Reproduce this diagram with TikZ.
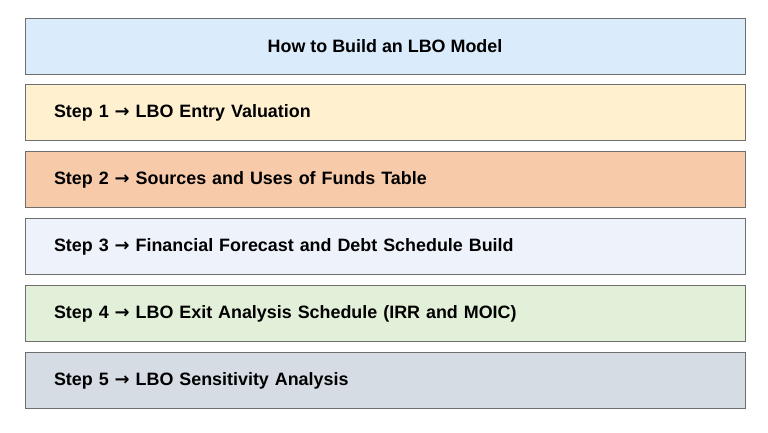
\documentclass[tikz,border=0pt]{standalone}
\usepackage{fontspec}
\setmainfont{Liberation Sans}
\newfontfamily\arrowfont{DejaVu Sans}
\usepackage{xcolor}
\usetikzlibrary{positioning}

\definecolor{titleblue}{HTML}{DAEBFC}
\definecolor{stepgold}{HTML}{FFF0CF}
\definecolor{steporange}{HTML}{F7CBAA}
\definecolor{stepice}{HTML}{EEF3FB}
\definecolor{stepgreen}{HTML}{E2EFD9}
\definecolor{stepslate}{HTML}{D6DCE4}
\definecolor{boxline}{HTML}{6E6E6E}

\newcommand{\goesto}{ {\arrowfont\bfseries →} }

\begin{document}
\begin{tikzpicture}[
    x=1pt, y=1pt,
    title/.style={rectangle, draw=boxline, line width=0.9pt,
                  minimum width=720pt, minimum height=56pt,
                  font=\fontsize{17.9}{20}\selectfont\bfseries},
    stepbox/.style={title, text width=662pt, align=left,
                    inner xsep=29pt},
    node distance=10pt
  ]
  \useasboundingbox (0,0) rectangle (768,-432);

  % header
  \node[title, fill=titleblue] (head) at (385,-46) {How to Build an LBO Model};

  % steps, stacked under the header
  \node[stepbox, fill=stepgold,   below=of head] (s1) {Step 1\goesto LBO Entry Valuation};
  \node[stepbox, fill=steporange, below=of s1]   (s2) {Step 2\goesto Sources and Uses of Funds Table};
  \node[stepbox, fill=stepice,    below=of s2]   (s3) {Step 3\goesto Financial Forecast and Debt Schedule Build};
  \node[stepbox, fill=stepgreen,  below=of s3]   (s4) {Step 4\goesto LBO Exit Analysis Schedule (IRR and MOIC)};
  \node[stepbox, fill=stepslate,  below=of s4]   (s5) {Step 5\goesto LBO Sensitivity Analysis};
\end{tikzpicture}
\end{document}
